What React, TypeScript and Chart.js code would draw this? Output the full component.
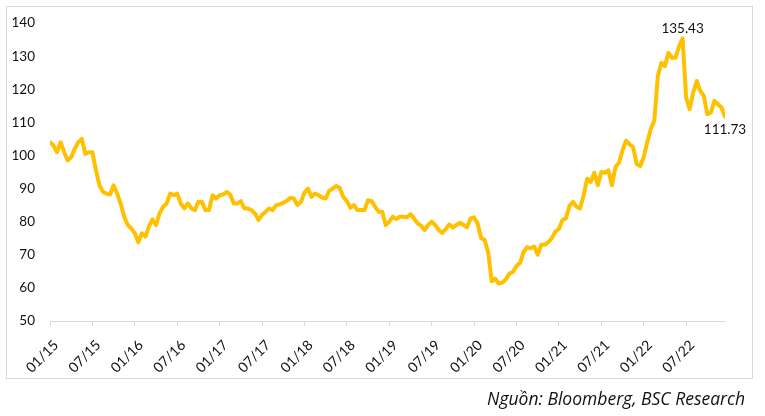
import React, { useEffect, useRef } from "react";
import { Chart, registerables } from "chart.js";

Chart.register(...registerables);

// Index level, sampled twice a month starting January 2015
const startYear = 15;
const stepMonths = 0.5;
const tickStepMonths = 6;

const values: number[] = [
  // 2015 H1
  104, 103, 101, 104, 101, 98.5, 99.5, 102, 104, 105, 100.5, 101,
  // 2015 H2
  101, 95.5, 91, 89, 88.5, 88.2, 91, 88.5, 85.5, 81.5, 79, 78,
  // 2016 H1
  76.5, 73.8, 76.5, 75.5, 78.5, 80.7, 79, 82.5, 84.5, 85.5, 88.5, 88,
  // 2016 H2
  88.5, 85.5, 84, 85.5, 84, 83.5, 86, 86, 83.5, 83.5, 88, 87,
  // 2017 H1
  88, 88.2, 89, 88.2, 85.5, 85.5, 86.2, 84, 84, 83.5, 82.5, 80.5,
  // 2017 H2
  82, 83, 84, 83.5, 85, 85.2, 85.7, 86.3, 87.2, 87, 85, 86,
  // 2018 H1
  88.8, 90, 87.5, 88.5, 88, 87.3, 87, 89.3, 90, 90.8, 90.2, 87.5,
  // 2018 H2
  86.2, 84.2, 85, 83.5, 83.5, 83.5, 86.5, 86.2, 84.5, 83, 83, 79,
  // 2019 H1
  80, 81.5, 80.8, 81.5, 81.5, 81.3, 82.3, 81, 79.5, 78.8, 77.5, 79,
  // 2019 H2
  80, 79, 77.5, 76.6, 77.8, 79.2, 78.2, 79, 79.7, 79, 78.3, 81,
  // 2020 H1
  81.3, 79.5, 75, 74.5, 70.6, 62, 62.8, 61.3, 61.6, 62.6, 64.3, 64.8,
  // 2020 H2
  66.6, 67.5, 70.8, 72.3, 72, 72.5, 70, 73, 73, 73.8, 75, 77,
  // 2021 H1
  77.8, 80.5, 81, 84.8, 86, 84.5, 84, 88, 93, 92, 94.8, 91,
  // 2021 H2
  95, 94.8, 95.5, 91, 96.5, 97.8, 101.5, 104.5, 103.4, 102.5, 97.5, 96.8,
  // 2022 H1
  99.5, 104, 108, 110.5, 124, 128, 127, 131, 129.5, 129.5, 133, 135.43,
  // 2022 H2
  117.5, 114, 119, 122.5, 119.5, 118, 112.5, 113, 116.5, 115.5, 114.5, 111.73,
];

const yMin = 50;
const yMax = 140;
const yStep = 10;

const caption = "Nguồn: Bloomberg, BSC Research";

const FONT = "Lato, 'Open Sans', sans-serif";
const CAPTION_FONT = "'Open Sans', Lato, sans-serif";
const TEXT_COLOR = "#111111";
const LINE_COLOR = "#FFC000";
const AXIS_COLOR = "#d9d9d9";

function monthLabel(m: number): string {
  const mm = Math.round(m);
  const mo = (mm % 12) + 1;
  const yr = startYear + Math.floor(mm / 12);
  return `${String(mo).padStart(2, "0")}/${yr}`;
}

export default function App() {
  const ref = useRef<HTMLCanvasElement | null>(null);

  useEffect(() => {
    if (!ref.current) return;
    const points = values.map((v, i) => ({ x: i * stepMonths, y: v }));
    const lastX = (values.length - 1) * stepMonths;

    let peakIdx = 0;
    values.forEach((v, i) => {
      if (v > values[peakIdx]) peakIdx = i;
    });
    const lastIdx = values.length - 1;

    const annot = {
      id: "annot",
      afterDatasetsDraw(chart: any) {
        const meta = chart.getDatasetMeta(0);
        const ctx = chart.ctx as CanvasRenderingContext2D;
        ctx.save();
        ctx.font = `13.5px ${FONT}`;
        ctx.fillStyle = TEXT_COLOR;
        ctx.textAlign = "center";
        const p = meta.data[peakIdx];
        ctx.textBaseline = "bottom";
        ctx.fillText(values[peakIdx].toFixed(2), p.x, p.y - 3);
        const q = meta.data[lastIdx];
        ctx.textBaseline = "top";
        ctx.fillText(values[lastIdx].toFixed(2), q.x, q.y + 6);
        ctx.restore();
      },
    };

    const chart = new Chart(ref.current, {
      type: "line",
      data: {
        datasets: [
          {
            data: points,
            borderColor: LINE_COLOR,
            backgroundColor: LINE_COLOR,
            borderWidth: 4,
            pointRadius: 0,
            tension: 0,
            borderJoinStyle: "round",
            borderCapStyle: "round",
          } as any,
        ],
      },
      options: {
        animation: false,
        responsive: false,
        devicePixelRatio: 1,
        layout: { padding: { left: 0, top: 19, right: 40, bottom: 0 } },
        plugins: {
          legend: { display: false },
          tooltip: { enabled: false },
        },
        scales: {
          x: {
            type: "linear",
            min: 0,
            max: lastX,
            afterFit(scale: any) {
              scale.height = 95;
            },
            border: { display: true, color: AXIS_COLOR, width: 1 },
            grid: {
              display: true,
              drawOnChartArea: false,
              drawTicks: true,
              tickLength: 5,
              color: AXIS_COLOR,
            },
            ticks: {
              stepSize: tickStepMonths,
              includeBounds: false,
              autoSkip: false,
              maxRotation: 45,
              minRotation: 45,
              padding: 11,
              labelOffset: 6,
              color: TEXT_COLOR,
              font: { family: FONT, size: 14 },
              callback: (v: any) => monthLabel(Number(v)),
            },
          },
          y: {
            min: yMin,
            max: yMax,
            afterFit(scale: any) {
              scale.width = 50;
            },
            border: { display: false },
            grid: { display: false, drawTicks: false },
            ticks: {
              stepSize: yStep,
              padding: 15,
              color: TEXT_COLOR,
              font: { family: FONT, size: 13.5 },
            },
          },
        },
      },
      plugins: [annot],
    } as any);

    return () => chart.destroy();
  }, []);

  return (
    <div
      style={{
        position: "fixed",
        left: 0,
        top: 0,
        width: 765,
        height: 416,
        background: "#ffffff",
      }}
    >
      <canvas
        ref={ref}
        width={765}
        height={416}
        style={{ position: "absolute", left: 0, top: 0, width: 765, height: 416 }}
      />
      <div
        style={{
          position: "absolute",
          left: 6,
          top: 6,
          width: 747,
          height: 373,
          boxSizing: "border-box",
          border: `1px solid ${AXIS_COLOR}`,
          pointerEvents: "none",
        }}
      />
      <div
        style={{
          position: "absolute",
          right: 20,
          top: 386,
          fontFamily: CAPTION_FONT,
          fontStyle: "italic",
          fontSize: 17.5,
          lineHeight: "24px",
          color: TEXT_COLOR,
          whiteSpace: "nowrap",
        }}
      >
        {caption}
      </div>
    </div>
  );
}
